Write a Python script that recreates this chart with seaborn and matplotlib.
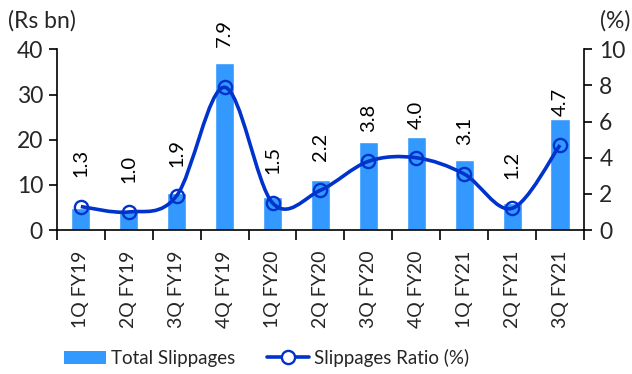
import matplotlib
matplotlib.use("Agg")
import matplotlib.pyplot as plt
from matplotlib.path import Path
from matplotlib.patches import PathPatch, Patch
from matplotlib.lines import Line2D
import seaborn as sns

quarters = ["1Q FY19", "2Q FY19", "3Q FY19", "4Q FY19", "1Q FY20", "2Q FY20",
            "3Q FY20", "4Q FY20", "1Q FY21", "2Q FY21", "3Q FY21"]
total_slippages = [4.8, 4.4, 8.3, 37.0, 7.3, 11.1, 19.5, 20.6, 15.4, 5.9, 24.6]
slippage_ratio = [1.3, 1.0, 1.9, 7.9, 1.5, 2.2, 3.8, 4.0, 3.1, 1.2, 4.7]

BAR_COLOR = "#3399FF"
LINE_COLOR = "#0033CC"

sns.set_theme(style="white")
plt.rcParams["font.family"] = ["Lato", "DejaVu Sans"]
TICK_FS = 16.5
XLAB_FS = 14
LABEL_FS = 14.5
LEG_FS = 13.5

fig = plt.figure(figsize=(6.32, 3.74), dpi=100)
ax = fig.add_axes([0.090, 0.385, 0.834, 0.483])

sns.barplot(x=quarters, y=total_slippages, color=BAR_COLOR, width=0.4,
            saturation=1, ax=ax)
ax.set_xlim(-0.5, len(quarters) - 0.5)
ax.set_ylim(0, 40)
ax.set_yticks(range(0, 41, 10))
ax.set_xlabel("")
ax.set_ylabel("")

ax2 = ax.twinx()
ax2.set_ylim(0, 10)
ax2.set_yticks(range(0, 11, 2))

# smoothed line (Catmull-Rom style bezier, like Excel's smoothed line)
xs = list(range(len(slippage_ratio)))
pts = list(zip(xs, slippage_ratio))
verts = [pts[0]]
codes = [Path.MOVETO]
for i in range(len(pts) - 1):
    p0 = pts[i - 1] if i > 0 else pts[i]
    p1 = pts[i]
    p2 = pts[i + 1]
    p3 = pts[i + 2] if i + 2 < len(pts) else pts[i + 1]
    c1 = (p1[0] + (p2[0] - p0[0]) / 6, p1[1] + (p2[1] - p0[1]) / 6)
    c2 = (p2[0] - (p3[0] - p1[0]) / 6, p2[1] - (p3[1] - p1[1]) / 6)
    verts += [c1, c2, p2]
    codes += [Path.CURVE4] * 3
ax2.add_patch(PathPatch(Path(verts, codes), facecolor="none",
                        edgecolor=LINE_COLOR, lw=2.6, zorder=3))
ax2.plot(xs, slippage_ratio, ls="none", marker="o", ms=9.5, mfc="none",
         mec=LINE_COLOR, mew=1.7, zorder=4)

for x, v in zip(xs, slippage_ratio):
    off = 29 if v > 7 else 21
    ax2.annotate(f"{v:.1f}", (x, v), xytext=(0, off), textcoords="offset points",
                 rotation=90, ha="center", va="bottom", fontsize=LABEL_FS,
                 color="black")

for a in (ax, ax2):
    a.spines["top"].set_visible(False)
    for side in ["left", "right", "bottom"]:
        a.spines[side].set_color("black")
        a.spines[side].set_linewidth(1.2)

ax2.spines["left"].set_visible(False)
ax2.spines["bottom"].set_visible(False)
ax.spines["right"].set_visible(False)

ax.tick_params(axis="y", direction="out", length=6, width=1.2, color="black",
               labelsize=TICK_FS, pad=4, left=True)
ax2.tick_params(axis="y", direction="out", length=6, width=1.2, color="black",
                labelsize=TICK_FS, pad=5, right=True)

ax.set_xticks(xs)
ax.set_xticklabels(quarters, rotation=90, fontsize=XLAB_FS)
ax.tick_params(axis="x", which="major", length=0, pad=15)
ax.set_xticks([i - 0.5 for i in range(len(quarters) + 1)], minor=True)
ax.tick_params(axis="x", which="minor", direction="out", length=7, width=1.2,
               color="black", bottom=True)

fig.text(0.012, 0.945, "(Rs bn)", fontsize=TICK_FS, ha="left", va="center")
fig.text(0.998, 0.945, "(%)", fontsize=TICK_FS, ha="right", va="center")

handles = [Patch(facecolor=BAR_COLOR, edgecolor="none"),
           Line2D([], [], color=LINE_COLOR, lw=2.6, marker="o", ms=9.5,
                  mfc="white", mec=LINE_COLOR, mew=1.7)]
fig.legend(handles, ["Total Slippages", "Slippages Ratio (%)"],
           loc="center left", bbox_to_anchor=(0.102, 0.043), ncol=2, frameon=False,
           fontsize=LEG_FS, handlelength=2.2, handletextpad=0.3, columnspacing=1.7,
           borderpad=0, borderaxespad=0)

fig.savefig("out.png", dpi=100)
